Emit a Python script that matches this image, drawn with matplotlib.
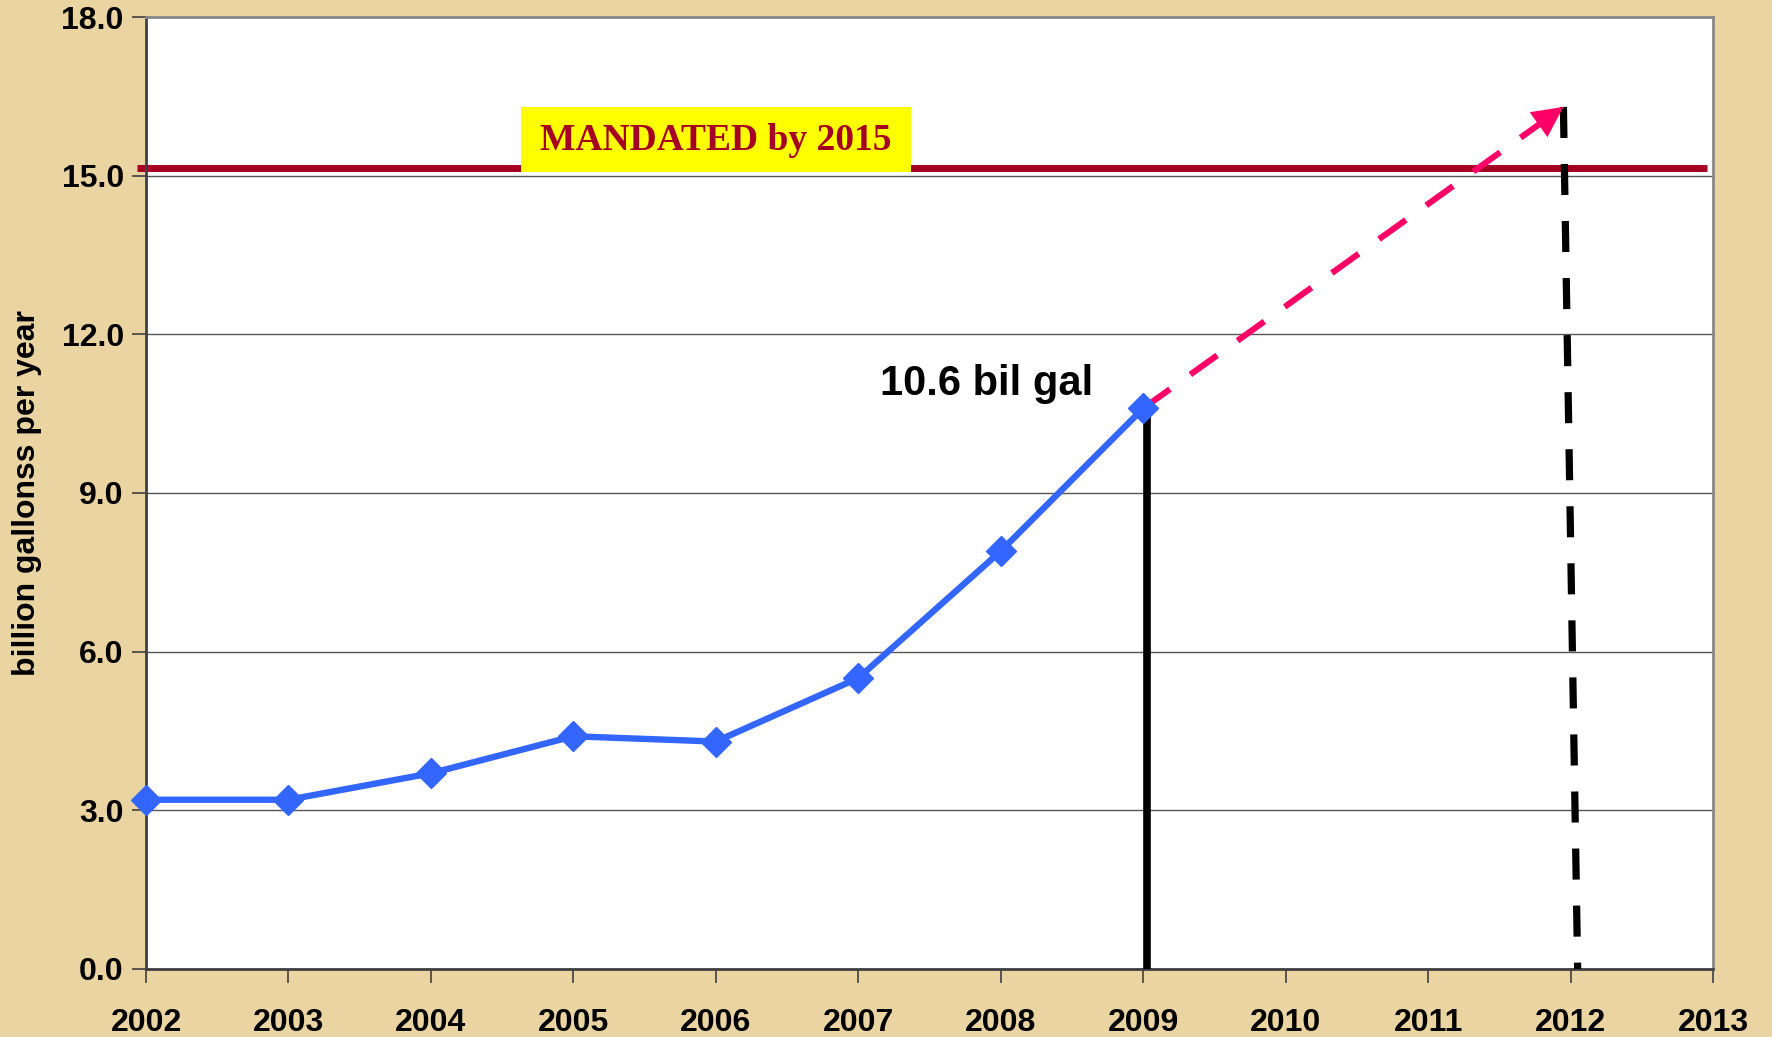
"""
Ethanol production vs. 2015 mandate - recreated chart.
"""

import matplotlib
matplotlib.use("Agg")
import matplotlib.pyplot as plt
from matplotlib.patches import Rectangle

plt.rcParams["font.family"] = ["Liberation Sans", "DejaVu Sans"]
plt.rcParams["font.weight"] = "bold"

years = [2002, 2003, 2004, 2005, 2006, 2007, 2008, 2009]
production = [3.2, 3.2, 3.7, 4.4, 4.3, 5.5, 7.9, 10.6]

mandate_level = 15.15
mandate_label = "MANDATED by 2015"

# projection: from the last data point to the arrow tip
proj_x = [2009, 2011.95]
proj_y = [10.6, 16.3]
# slanted dashed drop line from arrow tip down to the axis
drop_x = [2011.95, 2012.05]
drop_y = [16.3, 0.0]

x_ticks = list(range(2002, 2014))
y_ticks = [0.0, 3.0, 6.0, 9.0, 12.0, 15.0, 18.0]

bg = "#E9D4A2"

fig = plt.figure(figsize=(17.72, 10.37), dpi=100, facecolor=bg)
ax = fig.add_axes([0.0824, 0.0656, 0.8843, 0.918])
ax.set_facecolor("white")

ax.set_xlim(2002, 2013)
ax.set_ylim(0, 18)

# grid
ax.yaxis.grid(True, color="#555555", linewidth=1.0, zorder=0)
ax.set_axisbelow(True)

# mandate line with its yellow label box
ax.plot([2001.94, 2012.96], [mandate_level, mandate_level], color="#A50021",
        linewidth=5, solid_capstyle="butt", clip_on=False, zorder=2)
ax.add_patch(Rectangle((2004.63, 15.07), 2.74, 1.22, facecolor="#FFFF00",
                       edgecolor="none", zorder=5))
ax.text(2006.0, 15.66, mandate_label, ha="center", va="center",
        fontsize=27, fontweight="bold", family="Liberation Serif", color="#A50021",
        zorder=6)

# vertical line at 2009
ax.plot([2009.03, 2009.03], [0, 10.6], color="black", linewidth=5.5,
        solid_capstyle="butt", zorder=3)

# dashed black drop line at 2012
ax.plot(drop_x, drop_y, color="black", linewidth=5.2, linestyle=(0, (4.3, 3.6)),
        dash_capstyle="butt", zorder=3, clip_on=False)

# projection arrow
ax.plot(proj_x[:1] + [proj_x[1] - 0.15], proj_y[:1] + [proj_y[1] - 0.29],
        color="#FF0066", linewidth=4.4, linestyle=(0, (5.4, 4.1)),
        dash_capstyle="butt", zorder=4)
ax.annotate("", xy=(proj_x[1], proj_y[1]), xytext=(proj_x[1] - 0.2, proj_y[1] - 0.385),
            arrowprops=dict(arrowstyle="-|>,head_length=2.2,head_width=1.1",
                            color="#FF0066", linewidth=0, shrinkA=0, shrinkB=0),
            zorder=4)

# production series
ax.plot(years, production, color="#3366FF", linewidth=4.6, marker="D",
        markersize=15, zorder=7, clip_on=False)

ax.text(2007.15, 10.85, "10.6 bil gal", fontsize=30, fontweight="bold",
        color="black", ha="left", va="baseline")

# axes styling
ax.set_xticks(x_ticks)
ax.set_yticks(y_ticks)
ax.set_yticklabels([f"{v:.1f}" for v in y_ticks])
ax.tick_params(axis="both", direction="out", length=10, width=1.2, color="#404040",
               labelsize=23)
ax.tick_params(axis="x", pad=18)
ax.tick_params(axis="y", pad=6)
for lab in ax.get_xticklabels() + ax.get_yticklabels():
    lab.set_fontweight("bold")

ax.spines["left"].set_color("#404040")
ax.spines["bottom"].set_color("#404040")
ax.spines["top"].set_color("#888888")
ax.spines["right"].set_color("#888888")
for s in ax.spines.values():
    s.set_linewidth(2)

ax.set_ylabel("billion gallonss per year", fontsize=23, fontweight="bold",
              labelpad=14)

fig.savefig("out.png", dpi=100, facecolor=bg)
